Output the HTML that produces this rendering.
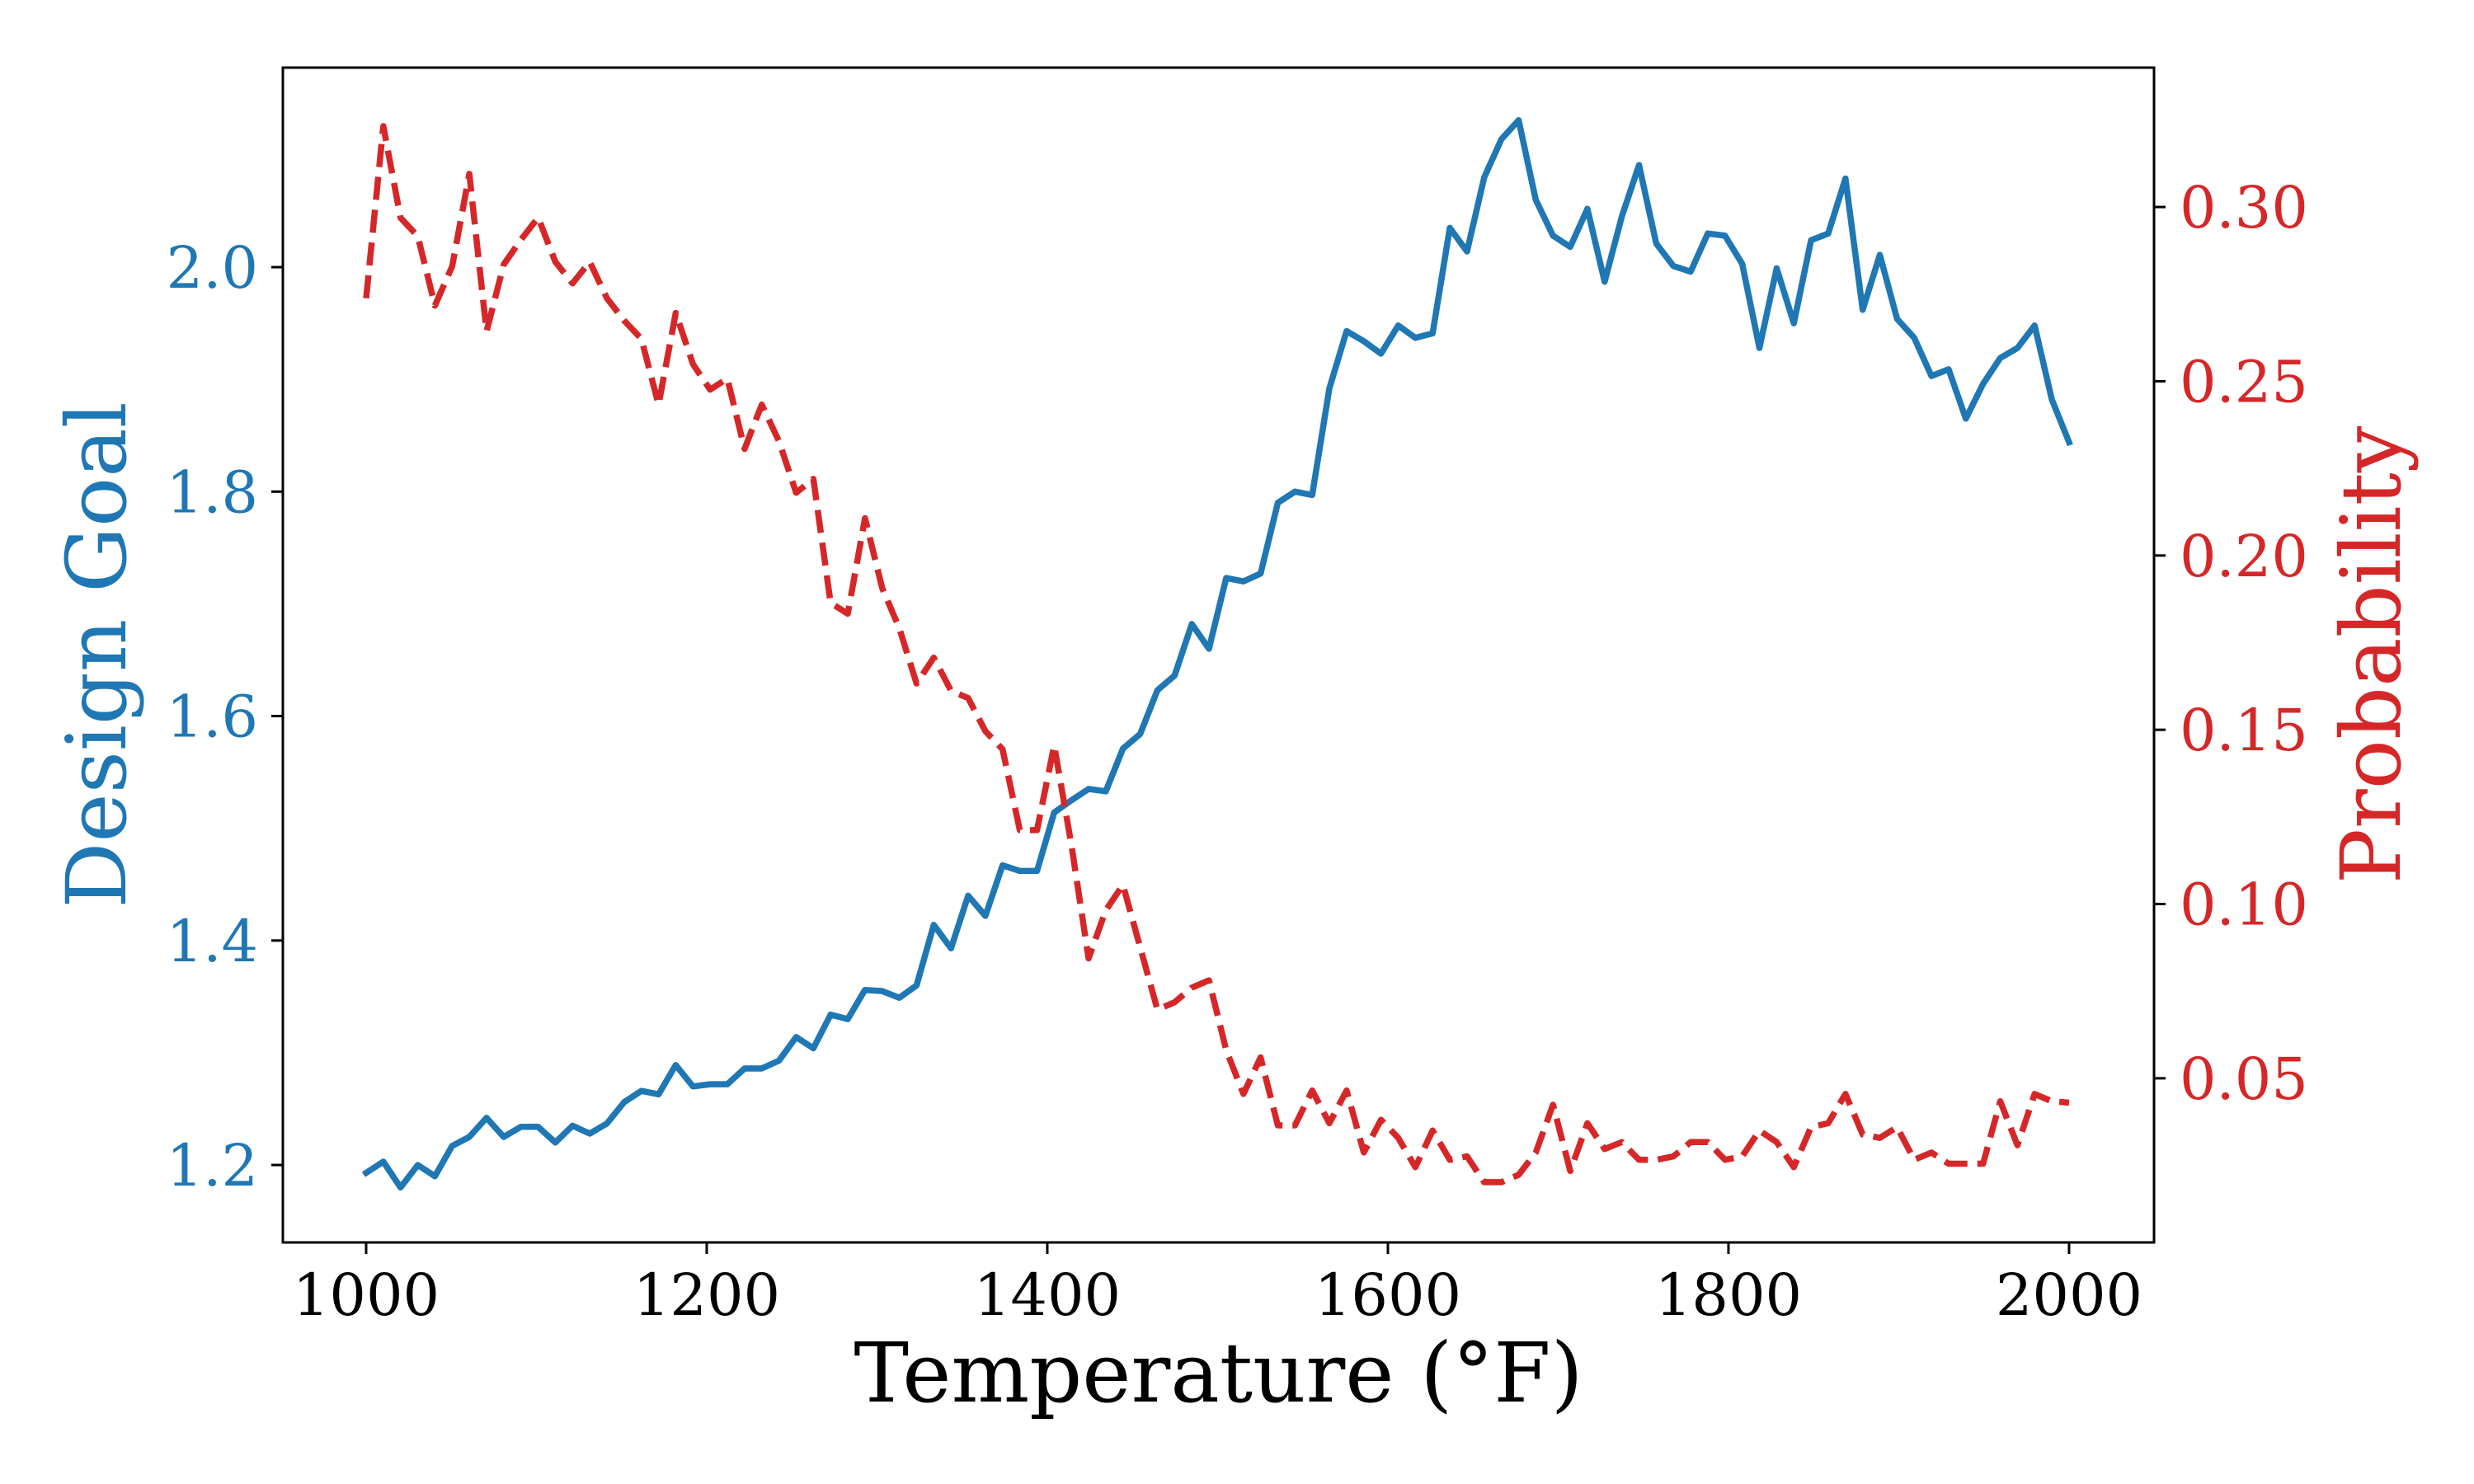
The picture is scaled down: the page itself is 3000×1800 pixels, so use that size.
<!DOCTYPE html>
<html><head><meta charset="utf-8"><style>
html,body{margin:0;padding:0;background:#fff;}
svg{display:block;}
text{font-family:"DejaVu Serif","Liberation Serif",serif;}
</style></head><body>
<svg id="chart" width="3000" height="1800" viewBox="0 0 3000 1800" xmlns="http://www.w3.org/2000/svg">
<rect x="0" y="0" width="3000" height="1800" fill="#fff"/>
<g id="plot"></g>
</svg>
<script>
const designGoal = [1.193,1.203,1.18,1.20,1.19,1.217,1.225,1.242,1.225,1.234,1.234,1.22,1.235,1.228,1.237,1.256,1.266,1.263,1.289,1.27,1.272,1.272,1.286,1.286,1.293,1.314,1.304,1.334,1.33,1.356,1.355,1.349,1.36,1.414,1.393,1.44,1.422,1.467,1.462,1.462,1.514,1.525,1.535,1.533,1.571,1.584,1.623,1.636,1.682,1.66,1.723,1.72,1.727,1.79,1.80,1.797,1.892,1.943,1.934,1.923,1.948,1.937,1.941,2.035,2.014,2.08,2.114,2.131,2.06,2.028,2.018,2.052,1.987,2.045,2.091,2.021,2.001,1.996,2.03,2.028,2.003,1.928,1.999,1.95,2.024,2.03,2.079,1.962,2.011,1.954,1.937,1.903,1.909,1.865,1.896,1.919,1.928,1.948,1.882,1.844];
const probability = [0.2738,0.3232,0.2969,0.2916,0.2717,0.283,0.3095,0.2643,0.2835,0.2906,0.297,0.2843,0.2781,0.2843,0.2738,0.2674,0.2622,0.2433,0.2696,0.2549,0.2476,0.2508,0.2306,0.2433,0.2328,0.218,0.222,0.1864,0.1833,0.2107,0.1907,0.1791,0.1633,0.1707,0.1612,0.1591,0.1496,0.1444,0.1212,0.1212,0.1455,0.117,0.0844,0.0982,0.1055,0.0876,0.0697,0.0718,0.076,0.0781,0.0581,0.0455,0.056,0.0365,0.0365,0.0465,0.0371,0.0465,0.0287,0.0381,0.0329,0.0245,0.035,0.0266,0.0276,0.0202,0.0202,0.0223,0.0287,0.0424,0.0234,0.0371,0.0297,0.0317,0.0266,0.0266,0.0276,0.0317,0.0317,0.0266,0.0276,0.035,0.0317,0.0245,0.036,0.0371,0.0455,0.0339,0.0329,0.036,0.0266,0.0287,0.0255,0.0255,0.0255,0.0434,0.0308,0.0455,0.0434,0.043];
const xTicks = [1000,1200,1400,1600,1800,2000];
const leftTicks = [1.2,1.4,1.6,1.8,2.0];
const rightTicks = [0.05,0.10,0.15,0.20,0.25,0.30];
const xStart = 1000, xEnd = 2000;

const L=343,R=2612,T=82,B=1507;
const xMin=951.1,xMax=2049.9,lMin=1.131,lMax=2.1778,rMin=0.0029,rMax=0.34;
const NS="http://www.w3.org/2000/svg";
const g=document.getElementById('plot');
function X(v){return L+(v-xMin)/(xMax-xMin)*(R-L);}
function YL(v){return B-(v-lMin)/(lMax-lMin)*(B-T);}
function YR(v){return B-(v-rMin)/(rMax-rMin)*(B-T);}
function mk(tag,attrs,parent){const e=document.createElementNS(NS,tag);for(const k in attrs)e.setAttribute(k,attrs[k]);(parent||g).appendChild(e);return e;}
function xAt(i,n){return xStart+(xEnd-xStart)*i/(n-1);}

let d1=designGoal.map((v,i)=>(i?'L':'M')+X(xAt(i,designGoal.length)).toFixed(1)+','+YL(v).toFixed(1)).join(' ');
const blue=mk('path',{d:d1,fill:'none',stroke:'#1f77b4','stroke-width':7.5,'stroke-linejoin':'round','stroke-linecap':'square'});


let d2=probability.map((v,i)=>(i?'L':'M')+X(xAt(i,probability.length)).toFixed(1)+','+YR(v).toFixed(1)).join(' ');
const red=mk('path',{d:d2,fill:'none',stroke:'#d62728','stroke-width':7.5,'stroke-dasharray':'28 12','stroke-linejoin':'round'});



const frame=mk('rect',{x:L,y:T,width:R-L,height:B-T,fill:'none',stroke:'#000','stroke-width':3});



xTicks.forEach(v=>{
  const x=X(v);
  const t=mk('line',{x1:x,y1:B,x2:x,y2:B+14,stroke:'#000','stroke-width':3});
  
  
  const l=mk('text',{x:x,y:B+88,'text-anchor':'middle','font-size':70,fill:'#000'});
  l.textContent=v;
  
  
});
leftTicks.forEach(v=>{
  const y=YL(v);
  const t=mk('line',{x1:L,y1:y,x2:L-14,y2:y,stroke:'#000','stroke-width':3});
  
  
  const l=mk('text',{x:L-30,y:y+25,'text-anchor':'end','font-size':70,fill:'#1f77b4'});
  l.textContent=v.toFixed(1);
  
  
});
rightTicks.forEach(v=>{
  const y=YR(v);
  const t=mk('line',{x1:R,y1:y,x2:R+14,y2:y,stroke:'#000','stroke-width':3});
  
  
  const l=mk('text',{x:R+31,y:y+25,'text-anchor':'start','font-size':70,fill:'#d62728'});
  l.textContent=v.toFixed(2);
  
  
});
const xl=mk('text',{x:(L+R)/2,y:1700,'text-anchor':'middle','font-size':100,fill:'#000'});
xl.textContent='Temperature (°F)';


const yl=mk('text',{x:0,y:0,'text-anchor':'middle','font-size':100,fill:'#1f77b4',transform:'translate(152,'+((T+B)/2)+') rotate(-90)'});
yl.textContent='Design Goal';


const yr=mk('text',{x:0,y:0,'text-anchor':'middle','font-size':100,fill:'#d62728',transform:'translate(2910,'+((T+B)/2)+') rotate(-90)'});
yr.textContent='Probability';


</script>
</body></html>
